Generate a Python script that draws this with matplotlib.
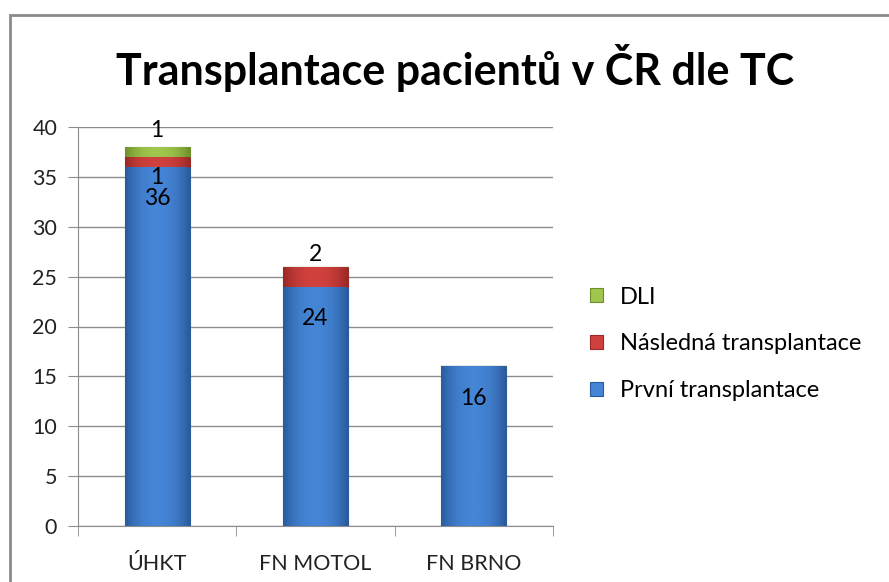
import matplotlib.pyplot as plt
import matplotlib.patches as mpatches
from matplotlib.colors import LinearSegmentedColormap
import numpy as np

plt.rcParams['font.family'] = ['Lato', 'DejaVu Sans']

centra = ['ÚHKT', 'FN MOTOL', 'FN BRNO']
prvni = [36, 24, 16]
nasledna = [1, 2, 0]
dli = [1, 0, 0]
serie = ['První transplantace', 'Následná transplantace', 'DLI']
barvy = ['#4585d6', '#d0413e', '#a0c64e']
tmave = ['#2a5b9c', '#9a2826', '#6f8f2c']

fig = plt.figure(figsize=(8.89, 5.82), dpi=100)
# outer chart border
fig.patches.append(mpatches.Rectangle((10 / 889, -0.1), 1.2, 1 - 15 / 582 + 0.1,
                                      transform=fig.transFigure, fill=False,
                                      edgecolor='#8a8a8a', linewidth=2))
ax = fig.add_axes([78 / 889, 56 / 582, 475 / 889, 399 / 582])

x = np.arange(len(centra))
w = 0.41
spodek = np.zeros(len(centra))
for vals, lab, c, d in zip([prvni, nasledna, dli], serie, barvy, tmave):
    bars = ax.bar(x, vals, w, bottom=spodek, color=c, edgecolor=d, linewidth=0.8,
                  label=lab, zorder=3)
    # glossy horizontal gradient
    cm = LinearSegmentedColormap.from_list('g', [c, d])
    for b in bars:
        if b.get_height() == 0:
            continue
        grad = np.abs(np.linspace(-1, 1, 64)) ** 2.2
        im = ax.imshow(np.array([grad]), extent=[b.get_x(), b.get_x() + b.get_width(),
                                                 b.get_y(), b.get_y() + b.get_height()],
                       aspect='auto', cmap=cm, zorder=3.5)
        im.set_clip_path(b)
    spodek += np.array(vals)

# data labels
fs = 16.5
for i in range(len(centra)):
    ax.annotate(str(prvni[i]), (x[i], prvni[i]), xytext=(0, -23), textcoords='offset points',
                ha='center', va='center', fontsize=fs, zorder=5)
ax.annotate(str(nasledna[0]), (x[0], prvni[0] + nasledna[0]), xytext=(0, -14.5),
            textcoords='offset points', ha='center', va='center', fontsize=fs, zorder=5)
ax.annotate(str(nasledna[1]), (x[1], prvni[1] + nasledna[1]), xytext=(0, 9),
            textcoords='offset points', ha='center', va='center', fontsize=fs, zorder=5)
ax.annotate(str(dli[0]), (x[0], spodek[0]), xytext=(0, 12), textcoords='offset points',
            ha='center', va='center', fontsize=fs, zorder=5)

ax.set_ylim(0, 40)
ax.set_xlim(-0.5, 2.5)
ax.set_yticks(np.arange(0, 41, 5))
ax.yaxis.grid(True, color='#8c8c8c', linewidth=1)
ax.set_axisbelow(True)
ax.set_xticks(x)
ax.set_xticklabels(centra)
ax.set_xticks([-0.5, 0.5, 1.5, 2.5], minor=True)
ax.tick_params(axis='x', which='major', length=0, pad=20, labelsize=15.5, colors='#222222')
ax.tick_params(axis='x', which='minor', length=7, color='#8c8c8c')
ax.tick_params(axis='y', length=7, labelsize=15.5, pad=8, colors='#222222')
ax.tick_params(axis='y', color='#8c8c8c')
for s in ['top', 'right']:
    ax.spines[s].set_visible(False)
for s in ['left', 'bottom']:
    ax.spines[s].set_color('#8c8c8c')

h, l = ax.get_legend_handles_labels()
fig.legend(h[::-1], l[::-1], loc='center left', bbox_to_anchor=(569 / 889, 1 - 344 / 582),
           frameon=False, fontsize=17, labelspacing=1.1, handlelength=0.55,
           handleheight=0.55, handletextpad=0.7)

fig.text(455 / 889, 1 - 68 / 582, 'Transplantace pacientů v ČR dle TC', ha='center',
         va='center', fontsize=31, fontweight='bold')

fig.savefig('out.png', dpi=100)
